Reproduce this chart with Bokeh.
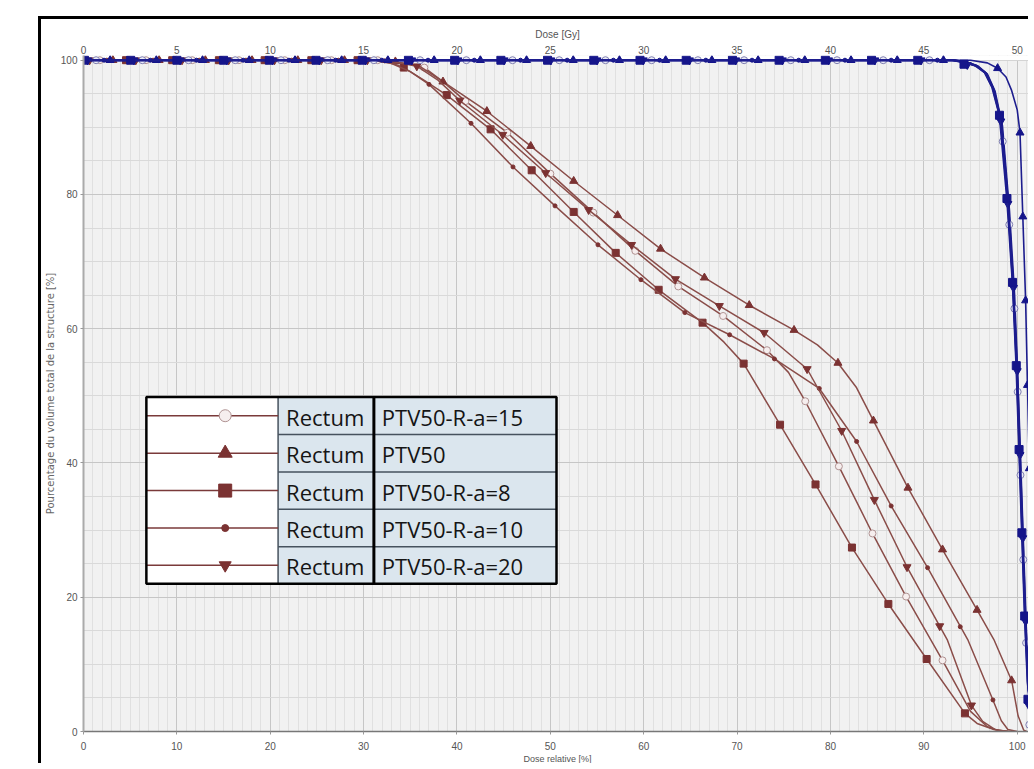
from bokeh.plotting import figure
from bokeh.models import Range1d, LinearAxis, SingleIntervalTicker, FixedTicker, BoxAnnotation
from bokeh.core.properties import value
from bokeh.embed import file_html
from bokeh.resources import INLINE

# ---------------- data (dose relative %, volume %) ----------------
y_ticks = [0, 20, 40, 60, 80, 100]
rel_ticks = [0, 10, 20, 30, 40, 50, 60, 70, 80, 90, 100]
gy_ticks = [0, 5, 10, 15, 20, 25, 30, 35, 40, 45, 50]

legend_structures = ["Rectum", "Rectum", "Rectum", "Rectum", "Rectum"]
legend_plans = ["PTV50-R-a=15", "PTV50", "PTV50-R-a=8", "PTV50-R-a=10", "PTV50-R-a=20"]

# Rectum curves
r15_dose = [0, 31.0, 33.0, 35.0, 36.5, 38.5, 40.9, 45.4, 50.0, 54.6, 59.1, 63.7, 68.5, 73.2, 75.5, 77.3, 80.9, 84.5, 88.1, 92.0, 95.0, 96.8, 98.0, 99.5]
r15_vol = [100, 100, 99.8, 99.4, 98.9, 96.8, 93.9, 89.2, 83.1, 77.3, 71.6, 66.3, 61.9, 56.8, 53.5, 49.2, 39.5, 29.5, 20.1, 10.6, 3.0, 0.7, 0.15, 0]
r15_mk_dose = [1.75, 6.7, 11.65, 16.65, 21.55, 26.55, 31.5, 36.5, 40.9, 45.4, 50.0, 54.6, 59.1, 63.7, 68.5, 73.2, 77.3, 80.9, 84.5, 88.1, 92.0]
r15_mk_vol = [100, 100, 100, 100, 100, 100, 100, 98.9, 93.9, 89.2, 83.1, 77.3, 71.6, 66.3, 61.9, 56.8, 49.2, 39.5, 29.5, 20.1, 10.6]

r50_dose = [0, 31.5, 33.5, 35.9, 38.5, 43.2, 47.9, 52.5, 57.2, 61.8, 66.5, 71.3, 76.1, 78.6, 80.8, 82.8, 84.6, 88.3, 92.0, 95.5, 97.5, 99.4, 100.1, 100.7, 101.0]
r50_vol = [100, 100, 99.7, 99.2, 96.8, 92.4, 87.2, 82.0, 76.9, 71.9, 67.6, 63.5, 59.8, 57.6, 54.9, 51.2, 46.3, 36.3, 27.1, 18.6, 13.7, 7.6, 2.3, 0.2, 0]
r50_mk_dose = [3.15, 8.1, 13.05, 18.05, 22.95, 27.95, 33.4, 38.5, 43.2, 47.9, 52.5, 57.2, 61.8, 66.5, 71.3, 76.1, 80.8, 84.6, 88.3, 92.0, 95.7, 99.4]
r50_mk_vol = [100, 100, 100, 100, 100, 100, 99.8, 96.8, 92.4, 87.2, 82.0, 76.9, 71.9, 67.6, 63.5, 59.8, 54.9, 46.3, 36.3, 27.1, 18.1, 7.6]

r8_dose = [0, 31.0, 33.0, 34.3, 36.5, 38.9, 43.6, 48.0, 52.5, 57.0, 61.6, 66.3, 68.6, 70.7, 74.6, 78.4, 82.3, 86.2, 90.3, 94.4, 95.7, 97.5, 99.0]
r8_vol = [100, 100, 99.6, 98.9, 97.0, 94.8, 89.7, 83.6, 77.4, 71.3, 65.8, 60.9, 58.0, 54.8, 45.7, 36.8, 27.4, 19.0, 10.8, 2.7, 1.2, 0.3, 0]
r8_mk_dose = [4.55, 9.5, 14.5, 19.4, 24.4, 29.35, 34.3, 38.9, 43.6, 48.0, 52.5, 57.0, 61.6, 66.3, 70.7, 74.6, 78.4, 82.3, 86.2, 90.3, 94.4]
r8_mk_vol = [100, 100, 100, 100, 100, 100, 98.9, 94.8, 89.7, 83.6, 77.4, 71.3, 65.8, 60.9, 54.8, 45.7, 36.8, 27.4, 19.0, 10.8, 2.7]

r10_dose = [0, 31.0, 33.0, 35.0, 37.0, 41.5, 46.0, 50.5, 55.1, 59.7, 64.4, 69.2, 74.0, 78.8, 82.8, 86.5, 90.4, 94.7, 97.4, 98.3, 99.0, 100.0]
r10_vol = [100, 100, 99.5, 98.3, 96.4, 90.6, 84.1, 78.3, 72.5, 67.3, 62.4, 59.1, 55.5, 51.1, 43.2, 33.6, 24.4, 13.7, 4.7, 1.6, 0.3, 0]
r10_mk_dose = [2.5, 7.45, 12.4, 17.4, 22.3, 27.3, 32.25, 37.0, 41.5, 46.0, 50.5, 55.1, 59.7, 64.4, 69.2, 74.0, 78.8, 82.8, 86.5, 90.4, 93.9, 97.4]
r10_mk_vol = [100, 100, 100, 100, 100, 100, 99.9, 96.4, 90.6, 84.1, 78.3, 72.5, 67.3, 62.4, 59.1, 55.5, 51.1, 43.2, 33.6, 24.4, 15.6, 4.7]

r20_dose = [0, 31.2, 33.5, 35.7, 38.0, 40.3, 44.9, 49.5, 54.1, 58.7, 63.4, 68.1, 72.9, 77.5, 81.2, 84.7, 88.2, 92.5, 95.1, 96.3, 97.6, 99.0]
r20_vol = [100, 100, 99.7, 99.1, 97.0, 94.0, 88.9, 83.2, 77.7, 72.5, 67.4, 63.4, 59.4, 54.0, 44.8, 34.5, 24.5, 13.7, 3.9, 1.5, 0.3, 0]
r20_mk_dose = [0.65, 5.6, 10.55, 15.55, 20.45, 25.45, 30.4, 35.7, 40.3, 44.9, 49.5, 54.1, 58.7, 63.4, 68.1, 72.9, 77.5, 81.2, 84.7, 88.2, 91.7, 95.1]
r20_mk_vol = [100, 100, 100, 100, 100, 100, 100, 99.1, 94.0, 88.9, 83.2, 77.7, 72.5, 67.4, 63.4, 59.4, 54.0, 44.8, 34.5, 24.5, 15.7, 3.9]

# PTV50 curves (blue)
p8_dose = [0, 93.0, 94.3, 95.5, 96.5, 97.3, 98.1, 98.9, 99.5, 99.9, 100.2, 100.5, 100.8, 101.1, 101.5, 102.2]
p8_vol = [100, 100, 99.7, 99.2, 98.2, 96.0, 91.8, 79.4, 66.9, 54.5, 42.0, 29.6, 17.2, 7.5, 2.0, 0]
p8_mk_dose = [0.1, 5.05, 10.0, 15.0, 19.9, 24.9, 29.85, 34.8, 39.75, 44.7, 49.7, 54.65, 59.6, 64.55, 69.5, 74.5, 79.45, 84.4, 89.35, 94.3, 98.1, 98.9, 99.5, 99.9, 100.2, 100.5, 100.8, 101.15]
p8_mk_vol = [100, 100, 100, 100, 100, 100, 100, 100, 100, 100, 100, 100, 100, 100, 100, 100, 100, 100, 100, 99.4, 91.8, 79.4, 66.9, 54.5, 42.0, 29.6, 17.2, 4.8]

p20_dose = [0, 93.1, 94.4, 95.6, 96.6, 97.4, 98.2, 99.0, 99.55, 99.95, 100.25, 100.55, 100.85, 101.15, 101.55, 102.25]
p20_vol = [100, 100, 99.7, 99.2, 98.1, 95.8, 91.4, 78.9, 66.4, 54.0, 41.5, 29.1, 16.7, 7.0, 1.8, 0]
p20_mk_dose = [0.45, 5.4, 10.35, 15.35, 20.25, 25.25, 30.2, 35.15, 40.1, 45.05, 50.05, 55.0, 59.95, 64.9, 69.85, 74.85, 79.8, 84.75, 89.7, 94.65, 98.25, 99.0, 99.6, 100.0, 100.3, 100.6, 100.9, 101.2]
p20_mk_vol = [100, 100, 100, 100, 100, 100, 100, 100, 100, 100, 100, 100, 100, 100, 100, 100, 100, 100, 100, 99.3, 90.9, 78.6, 66.1, 53.7, 41.2, 28.8, 16.4, 4.0]

p10_dose = [0, 93.2, 94.5, 95.7, 96.7, 97.5, 98.3, 99.05, 99.6, 100.0, 100.3, 100.6, 100.9, 101.2, 101.6, 102.3]
p10_vol = [100, 100, 99.7, 99.1, 98.0, 95.6, 90.8, 78.4, 65.9, 53.5, 41.0, 28.6, 16.2, 6.6, 1.6, 0]
p10_mk_dose = [2.2, 7.15, 12.1, 17.1, 22.0, 27.0, 31.95, 36.9, 41.85, 46.8, 51.8, 56.75, 61.7, 66.65, 71.6, 76.6, 81.55, 86.5, 91.45]
p10_mk_vol = [100, 100, 100, 100, 100, 100, 100, 100, 100, 100, 100, 100, 100, 100, 100, 100, 100, 100, 100]

p15_dose = [0, 93.3, 94.6, 95.8, 96.8, 97.6, 98.4, 99.15, 99.7, 100.05, 100.35, 100.65, 100.95, 101.25, 101.65, 102.4]
p15_vol = [100, 100, 99.7, 99.1, 97.9, 95.4, 90.2, 77.6, 65.0, 52.6, 40.2, 27.8, 15.4, 6.0, 1.4, 0]
p15_mk_dose = [1.35, 6.3, 11.25, 16.25, 21.15, 26.15, 31.1, 36.05, 41.0, 45.95, 50.95, 55.9, 60.85, 65.8, 70.75, 75.75, 80.7, 85.65, 90.6, 98.45, 99.15, 99.7, 100.05, 100.35, 100.65, 100.95, 101.3]
p15_mk_vol = [100, 100, 100, 100, 100, 100, 100, 100, 100, 100, 100, 100, 100, 100, 100, 100, 100, 100, 100, 87.9, 75.5, 63.0, 50.6, 38.2, 25.6, 13.2, 1.0]

p50_dose = [0, 95.0, 96.8, 97.9, 98.8, 99.4, 100.0, 100.3, 100.6, 100.9, 101.1, 101.3, 101.6, 101.8, 102.0, 102.4]
p50_vol = [100, 100, 99.6, 98.8, 97.5, 95.5, 92.6, 89.2, 76.7, 64.2, 51.6, 39.2, 26.7, 13.7, 4.0, 0]
p50_mk_dose = [2.85, 7.8, 12.75, 17.75, 22.65, 27.65, 32.6, 37.55, 42.5, 47.45, 52.45, 57.4, 62.35, 67.3, 72.25, 77.25, 82.2, 87.15, 92.1, 97.9, 100.3, 100.6, 100.9, 101.1, 101.3]
p50_mk_vol = [100, 100, 100, 100, 100, 100, 100, 100, 100, 100, 100, 100, 100, 100, 100, 100, 100, 100, 100, 98.8, 89.2, 76.7, 64.2, 51.6, 39.2]

# ---------------- styles / layout ----------------
BROWN_LINE = "#8a4d49"
BROWN_MK = "#7b3232"
BLUE_LINE = "#1d1d8e"
BLUE_MK = "#15158a"
TICK_FONT = "Liberation Sans"

# canvas placed at page (41, 19) by the CSS margin + black border
W, H = 990, 747
FRAME_L, FRAME_R, FRAME_T, FRAME_B = 81, 1031, 55, 732   # page pixels
X_END = 101.53
Y_END = 100.7

p = figure(width=W, height=H, output_backend="svg", toolbar_location=None,
           x_range=Range1d(0, X_END), y_range=Range1d(0, Y_END),
           min_border_left=40, min_border_right=0, min_border_top=36, min_border_bottom=34,
           background_fill_color="#f1f1f1", border_fill_color="white",
           outline_line_color=None)
p.margin = (16, 0, 0, 38)
p.styles = {"border-left": "3px solid black", "border-top": "3px solid black"}

xb = p.below[0]
yl = p.left[0]
xb.ticker = SingleIntervalTicker(interval=10, num_minor_ticks=10)
yl.ticker = SingleIntervalTicker(interval=20, num_minor_ticks=4)
p.xgrid[0].ticker = xb.ticker
p.ygrid[0].ticker = yl.ticker

p.xgrid.grid_line_color = "#c6c6c6"
p.xgrid.minor_grid_line_color = "#e0e0e0"
p.ygrid.grid_line_color = "#c6c6c6"
p.ygrid.minor_grid_line_color = "#d9d9d9"

for ax in (xb, yl):
    ax.major_label_text_font = TICK_FONT
    ax.major_label_text_font_size = "10px"
    ax.major_label_text_color = "#555555"
    ax.minor_tick_line_color = None
    ax.major_tick_line_color = "#999999"
    ax.axis_label_text_font_style = "normal"
    ax.axis_label_text_color = "#555555"

xb.axis_label = "Dose relative [%]"
xb.axis_label_text_font = TICK_FONT
xb.axis_label_text_font_size = "9px"
xb.axis_label_standoff = 1
xb.major_tick_out = 3
xb.major_tick_in = 0
xb.major_label_standoff = 6
xb.axis_line_color = "#777777"
xb.axis_line_width = 1.5

yl.axis_label = "Pourcentage du volume total de la structure [%]"
yl.axis_label_text_font = "DejaVu Sans"
yl.axis_label_text_font_size = "10px"
yl.axis_label_text_color = "#666666"
yl.axis_label_standoff = 2
yl.major_tick_out = 3
yl.major_tick_in = 0
yl.major_label_standoff = 2
yl.axis_line_color = "#aaaaaa"
yl.axis_line_width = 2

p.extra_x_ranges = {"gy": Range1d(0, X_END / 2), "px": Range1d(FRAME_L, FRAME_R)}
p.extra_y_ranges = {"py": Range1d(FRAME_B, FRAME_T)}
top = LinearAxis(x_range_name="gy", ticker=FixedTicker(ticks=gy_ticks, minor_ticks=[]),
                 axis_label="Dose [Gy]")
top.axis_line_color = None
top.major_tick_line_color = None
top.minor_tick_line_color = None
top.major_tick_out = 0
top.major_label_standoff = 2
top.major_label_text_font = TICK_FONT
top.major_label_text_font_size = "10px"
top.major_label_text_color = "#555555"
top.axis_label_text_font = TICK_FONT
top.axis_label_text_font_size = "10px"
top.axis_label_text_font_style = "normal"
top.axis_label_text_color = "#555555"
top.axis_label_standoff = 3
p.add_layout(top, "above")

# white band above 100 %
p.add_layout(BoxAnnotation(bottom=100, fill_color="white", fill_alpha=1, line_color=None, level="underlay"))

# ---------------- curves ----------------
def draw(dose, vol, mk_dose, mk_vol, line_color, line_width, marker, size, fill, mline):
    p.line(dose, vol, line_color=line_color, line_width=line_width)
    p.scatter(mk_dose, mk_vol, marker=marker, size=size, fill_color=fill, line_color=mline, line_width=1)

draw(r15_dose, r15_vol, r15_mk_dose, r15_mk_vol, BROWN_LINE, 1.5, "circle", 7, "#f6eeee", "#b09393")
draw(r50_dose, r50_vol, r50_mk_dose, r50_mk_vol, BROWN_LINE, 1.5, "triangle", 8, BROWN_MK, BROWN_MK)
draw(r8_dose, r8_vol, r8_mk_dose, r8_mk_vol, BROWN_LINE, 1.5, "square", 7, BROWN_MK, BROWN_MK)
draw(r10_dose, r10_vol, r10_mk_dose, r10_mk_vol, BROWN_LINE, 1.5, "circle", 4, BROWN_MK, BROWN_MK)
draw(r20_dose, r20_vol, r20_mk_dose, r20_mk_vol, BROWN_LINE, 1.5, "inverted_triangle", 8, BROWN_MK, BROWN_MK)

draw(p50_dose, p50_vol, p50_mk_dose, p50_mk_vol, BLUE_LINE, 1.6, "triangle", 8, BLUE_MK, BLUE_MK)
draw(p15_dose, p15_vol, p15_mk_dose, p15_mk_vol, BLUE_LINE, 2, "circle", 7, "#ececf6", "#7f7fb0")
draw(p10_dose, p10_vol, p10_mk_dose, p10_mk_vol, BLUE_LINE, 2, "circle", 4, BLUE_MK, BLUE_MK)
draw(p20_dose, p20_vol, p20_mk_dose, p20_mk_vol, BLUE_LINE, 2, "inverted_triangle", 8, BLUE_MK, BLUE_MK)
draw(p8_dose, p8_vol, p8_mk_dose, p8_mk_vol, BLUE_LINE, 2, "square", 8, BLUE_MK, BLUE_MK)

# ---------------- legend table (page pixel coordinates) ----------------
L, C2, C3, R = 144, 276, 372, 555
T, B = 397, 584
row_edges = [397, 434.5, 472, 509.5, 547, 584]
row_mid = [(row_edges[i] + row_edges[i + 1]) / 2 for i in range(5)]
kw = dict(x_range_name="px", y_range_name="py")
p.quad(left=[L], right=[C2], top=[T], bottom=[B], fill_color="white", line_color=None, **kw)
p.quad(left=[C2], right=[R], top=[T], bottom=[B], fill_color="#dbe6ee", line_color=None, **kw)
p.segment(x0=[C2] * 4, x1=[R] * 4, y0=row_edges[1:5], y1=row_edges[1:5], line_color="#46525e", line_width=1.5, **kw)
p.segment(x0=[C2], x1=[C2], y0=[T], y1=[B], line_color="#46525e", line_width=1.5, **kw)
p.segment(x0=[L] * 5, x1=[C2] * 5, y0=row_mid, y1=row_mid, line_color="#7a3a3a", line_width=1.5, **kw)
leg_markers = ["circle", "triangle", "square", "circle", "inverted_triangle"]
leg_sizes = [12, 14, 13, 7, 12]
leg_fill = ["#f6eeee", BROWN_MK, BROWN_MK, BROWN_MK, BROWN_MK]
leg_line = ["#b09393", BROWN_MK, BROWN_MK, BROWN_MK, BROWN_MK]
p.scatter(x=[223] * 5, y=row_mid, marker=leg_markers, size=leg_sizes, fill_color=leg_fill,
          line_color=leg_line, line_width=1, **kw)
p.text(x=[284] * 5, y=[m + 1 for m in row_mid], text=legend_structures, text_font=value("Open Sans"),
       text_font_size="22px", text_baseline="middle", text_color="#151515", **kw)
p.text(x=[380] * 5, y=[m + 1 for m in row_mid], text=legend_plans, text_font=value("Open Sans"),
       text_font_size="22px", text_baseline="middle", text_color="#151515", **kw)
p.segment(x0=[C3], x1=[C3], y0=[T], y1=[B], line_color="black", line_width=3, **kw)
p.quad(left=[L], right=[R], top=[T], bottom=[B], fill_color=None, line_color="black", line_width=2.5, **kw)

open("out.html", "w").write(file_html(p, INLINE))
